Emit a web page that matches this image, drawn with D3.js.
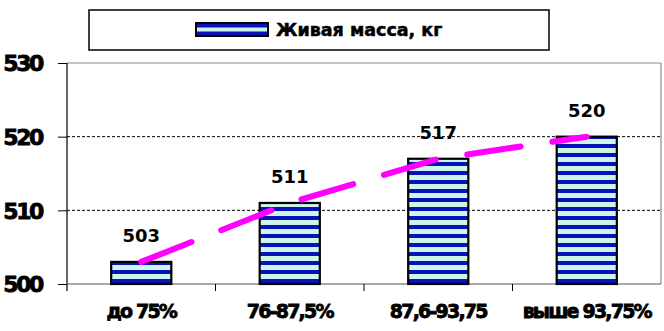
<!DOCTYPE html>
<html><head><meta charset="utf-8">
<script src="https://cdn.jsdelivr.net/npm/d3@7"></script>
<style>html,body{margin:0;padding:0;background:#fff;}svg{display:block;}</style>
</head><body>
<script>
const categories = ["до 75%", "76-87,5%", "87,6-93,75", "выше 93,75%"];
const values = [503, 511, 517, 520];
const yTicks = [500, 510, 520, 530];
const seriesName = "Живая масса, кг";

const W = 664, H = 331;
const svg = d3.select("body").append("svg").attr("width", W).attr("height", H);
const defs = svg.append("defs");
const pat = defs.append("pattern").attr("id", "stripes").attr("patternUnits", "userSpaceOnUse")
  .attr("width", 10).attr("height", 9).attr("y", 0);
pat.append("rect").attr("width", 10).attr("height", 9).attr("fill", "#ccf6ea");
pat.append("rect").attr("width", 10).attr("height", 4).attr("fill", "#0a12b8");

const pLeft = 67, pRight = 661, pTop = 63, pBottom = 284;
const x = d3.scaleBand().domain(categories).range([pLeft, pRight]).paddingInner(0.595).paddingOuter(0.2975);
const y = d3.scaleLinear().domain([500, 530]).range([pBottom, pTop]);
const step = x.step();

// plot frame (top and right in gray)
svg.append("line").attr("x1", pLeft).attr("x2", pRight).attr("y1", y(530)).attr("y2", y(530)).attr("stroke", "#8a8a8a").attr("stroke-width", 1.2);
svg.append("line").attr("x1", pRight).attr("x2", pRight).attr("y1", y(530)).attr("y2", pBottom).attr("stroke", "#8a8a8a").attr("stroke-width", 1.2);

// gridlines
svg.append("g").selectAll("line").data(yTicks.filter(t => t > 500 && t < 530)).join("line")
  .attr("x1", pLeft).attr("x2", pRight).attr("y1", d => y(d)).attr("y2", d => y(d))
  .attr("stroke", "#000").attr("stroke-width", 1).attr("stroke-dasharray", "3,2");

// y axis
const yAxis = d3.axisLeft(y).tickValues(yTicks).tickSize(9).tickFormat(d3.format("d"));
const gy = svg.append("g").attr("transform", `translate(${pLeft},0)`).call(yAxis);
gy.select(".domain").remove();
gy.selectAll(".tick line").attr("stroke", "#000").attr("stroke-width", 1);
gy.selectAll(".tick text").attr("x", -25).attr("dy", "0.36em")
  .attr("font-family", "DejaVu Sans").attr("font-weight", "bold").attr("font-size", 22)
  .attr("letter-spacing", -2.4).attr("fill", "#000").attr("stroke", "#000").attr("stroke-width", 0.8)
  .attr("text-anchor", "end");
svg.append("line").attr("x1", pLeft).attr("x2", pLeft).attr("y1", y(530)).attr("y2", pBottom + 7).attr("stroke", "#000").attr("stroke-width", 1.2);

// x axis
svg.append("line").attr("x1", pLeft).attr("x2", pRight).attr("y1", pBottom).attr("y2", pBottom).attr("stroke", "#555").attr("stroke-width", 1.2);
svg.append("g").selectAll("line").data(categories.slice(1)).join("line")
  .attr("x1", d => x(d) - (step - x.bandwidth()) / 2).attr("x2", d => x(d) - (step - x.bandwidth()) / 2)
  .attr("y1", pBottom).attr("y2", pBottom + 7).attr("stroke", "#000").attr("stroke-width", 1);
svg.append("g").selectAll("text").data(categories).join("text")
  .attr("x", d => x(d) + x.bandwidth() / 2).attr("y", 318)
  .attr("text-anchor", "middle").attr("font-family", "DejaVu Sans").attr("font-weight", "bold")
  .attr("font-size", 19).attr("letter-spacing", -1.8).attr("fill", "#000")
  .attr("stroke", "#000").attr("stroke-width", 0.8).text(d => d);

// bars
svg.append("g").selectAll("rect").data(values).join("rect")
  .attr("x", (d, i) => x(categories[i])).attr("y", d => y(d))
  .attr("width", x.bandwidth()).attr("height", d => pBottom - y(d))
  .attr("fill", "url(#stripes)").attr("stroke", "#000").attr("stroke-width", 2.2);

// dashed magenta line
const line = d3.line().x((d, i) => x(categories[i]) + x.bandwidth() / 2).y(d => y(d));
svg.append("path").datum(values).attr("d", line).attr("fill", "none")
  .attr("stroke", "#ff00ff").attr("stroke-width", 6).attr("stroke-linecap", "round")
  .attr("stroke-dasharray", "54,32");

// data labels
svg.append("g").selectAll("text").data(values).join("text")
  .attr("x", (d, i) => x(categories[i]) + x.bandwidth() / 2).attr("y", d => y(d) - 19.5)
  .attr("text-anchor", "middle").attr("font-family", "DejaVu Sans").attr("font-weight", "bold")
  .attr("font-size", 18).attr("fill", "#000").text(d => d);

// legend
svg.append("rect").attr("x", 89).attr("y", 10).attr("width", 460).attr("height", 40)
  .attr("fill", "#fff").attr("stroke", "#000").attr("stroke-width", 1.5);
const lg = svg.append("g").attr("transform", "translate(196,23)");
lg.append("rect").attr("width", 72).attr("height", 13).attr("fill", "#0a12b8").attr("stroke", "#000").attr("stroke-width", 2);
lg.append("rect").attr("x", 1).attr("y", 4.5).attr("width", 70).attr("height", 4).attr("fill", "#ccf6ea");
lg.append("text").attr("x", 80).attr("y", 13).attr("font-family", "DejaVu Sans").attr("font-weight", "bold")
  .attr("font-size", 17.5).attr("fill", "#000").attr("stroke", "#000").attr("stroke-width", 0.5)
  .text(seriesName);
</script>
</body></html>
